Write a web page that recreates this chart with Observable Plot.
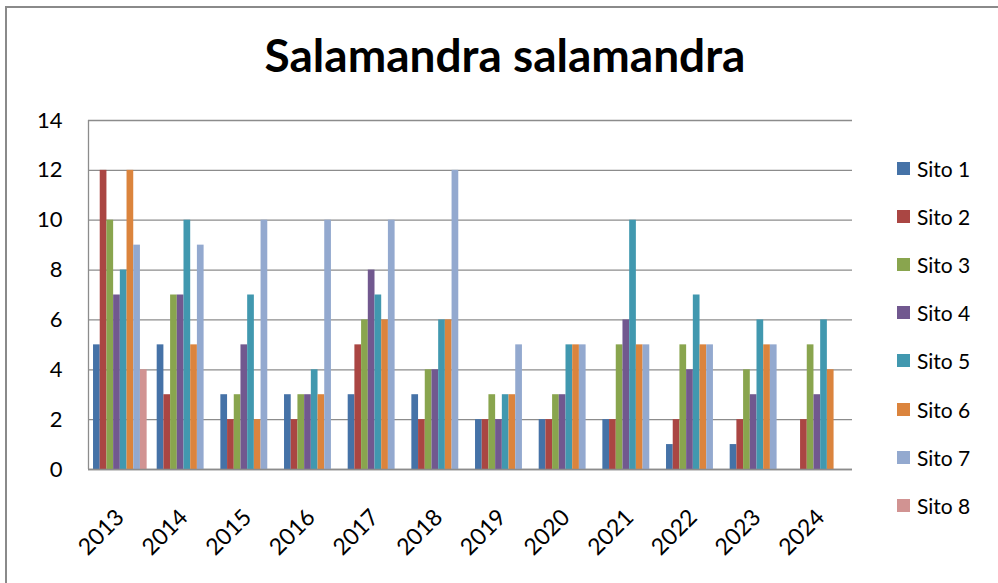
<!DOCTYPE html>
<html>
<head>
<meta charset="utf-8">
<script src="https://cdn.jsdelivr.net/npm/d3@7"></script>
<script src="https://cdn.jsdelivr.net/npm/@observablehq/plot@0.6"></script>
<style>
  html, body { margin: 0; padding: 0; background: #fff; }
  #page { position: relative; width: 998px; height: 583px; overflow: hidden; font-family: Lato, "Open Sans", sans-serif; }
  #border { position: absolute; left: 5px; top: 6px; right: -4px; bottom: -4px; border-top: 2px solid #8a8a8a; border-left: 2px solid #8a8a8a; }
  #title { position: absolute; left: 0; top: 0; width: 1010px; height: 100px; text-align: center; font-weight: 700; font-size: 46px; line-height: 110px; color: #000; }
  #chart { position: absolute; left: 0; top: 100px; }
  #legend { position: absolute; left: 897px; top: 0; }
  .item { position: absolute; left: 0; width: 100px; height: 24px; display: flex; align-items: center; font-size: 21px; color: #000; white-space: nowrap; }
  .sw { width: 13px; height: 13px; margin-right: 7px; }
</style>
</head>
<body>
<div id="page">
  <div id="border"></div>
  <div id="title">Salamandra salamandra</div>
  <div id="chart"></div>
  <div id="legend"></div>
</div>
<script>
// ---- data ----
const years = ["2013","2014","2015","2016","2017","2018","2019","2020","2021","2022","2023","2024"];
const sites = ["Sito 1","Sito 2","Sito 3","Sito 4","Sito 5","Sito 6","Sito 7","Sito 8"];
const sito1 = [5, 5, 3, 3, 3, 3, 2, 2, 2, 1, 1, null];
const sito2 = [12, 3, 2, 2, 5, 2, 2, 2, 2, 2, 2, 2];
const sito3 = [10, 7, 3, 3, 6, 4, 3, 3, 5, 5, 4, 5];
const sito4 = [7, 7, 5, 3, 8, 4, 2, 3, 6, 4, 3, 3];
const sito5 = [8, 10, 7, 4, 7, 6, 3, 5, 10, 7, 6, 6];
const sito6 = [12, 5, 2, 3, 6, 6, 3, 5, 5, 5, 5, 4];
const sito7 = [9, 9, 10, 10, 10, 12, 5, 5, 5, 5, 5, null];
const sito8 = [4, null, null, null, null, null, null, null, null, null, null, null];
const yTicks = [0, 2, 4, 6, 8, 10, 12, 14];
const colors = ["#4572A7","#AA4643","#89A54E","#71588F","#4198AF","#DB843D","#93A9CF","#D19392"];

const series = [sito1, sito2, sito3, sito4, sito5, sito6, sito7, sito8];
const groupSlots = 9.5; // 8 bars + gap (in bar widths)
const rows = [];
series.forEach((vals, j) => {
  vals.forEach((v, i) => {
    if (v == null) return;
    rows.push({
      year: years[i],
      site: sites[j],
      value: v,
      x1: i + (j + 0.75) / groupSlots,
      x2: i + (j + 1.75) / groupSlots
    });
  });
});
const xTicks = years.map((y, i) => i + 0.5);

const chart = Plot.plot({
  width: 998,
  height: 483,
  marginTop: 20,
  marginBottom: 114,
  marginLeft: 88,
  marginRight: 146,
  style: { fontFamily: "Lato, 'Open Sans', sans-serif", fontSize: "22px", color: "#000", background: "transparent" },
  x: { type: "linear", domain: [0, years.length], axis: null },
  y: { domain: [0, 14], axis: null },
  color: { domain: sites, range: colors },
  marks: [
    Plot.ruleY(yTicks, { stroke: "#8c8c8c", strokeWidth: 1.3 }),
    Plot.rect(rows, { x1: "x1", x2: "x2", y1: d => 0, y2: "value", fill: "site" }),
    Plot.ruleX([0], { stroke: "#8c8c8c", strokeWidth: 1.3 }),
    Plot.ruleY([0], { stroke: "#8c8c8c", strokeWidth: 1.3 }),
    Plot.axisY(yTicks, { tickSize: 0, tickPadding: 26, fontSize: 22, label: null }),
    Plot.axisX(xTicks, { tickSize: 0, tickFormat: d => years[Math.floor(d)], tickRotate: -45, tickPadding: 44, fontSize: 23, label: null })
  ]
});
document.getElementById("chart").appendChild(chart);

const legend = document.getElementById("legend");
sites.forEach((s, k) => {
  const it = document.createElement("div");
  it.className = "item";
  it.style.top = (168.5 - 12 + k * 48.1) + "px";
  const sw = document.createElement("div");
  sw.className = "sw";
  sw.style.background = colors[k];
  it.appendChild(sw);
  it.appendChild(document.createTextNode(s));
  legend.appendChild(it);
});
</script>
</body>
</html>
